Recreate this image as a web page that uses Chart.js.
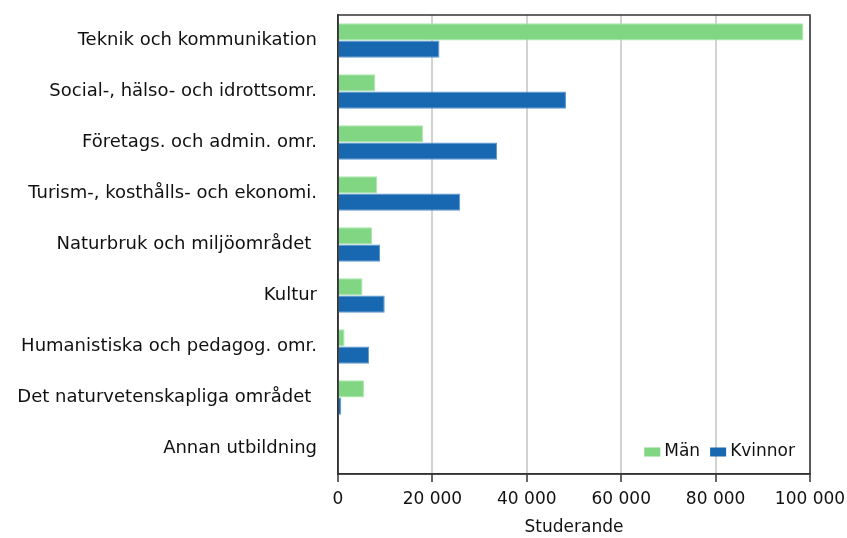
<!DOCTYPE html>
<html>
<head>
<meta charset="utf-8">
<script src="https://cdn.jsdelivr.net/npm/chart.js@4/dist/chart.umd.min.js"></script>
<style>
  html, body { margin: 0; padding: 0; background: #fff; }
  #wrap { width: 847px; height: 538px; }
</style>
</head>
<body>
<div id="wrap"><canvas id="bar-chart"></canvas></div>
<script>
var kategorier = ["Teknik och kommunikation", "Social-, hälso- och idrottsomr.", "Företags. och admin. omr.",
  "Turism-, kosthålls- och ekonomi.", "Naturbruk och miljöområdet ", "Kultur",
  "Humanistiska och pedagog. omr.", "Det naturvetenskapliga området ", "Annan utbildning"];
var man = [98600, 7900, 18000, 8300, 7200, 5200, 1400, 5500, 0];
var kvinnor = [21500, 48300, 33700, 25900, 8900, 9900, 6600, 700, 0];
var xTicks = [0, 20000, 40000, 60000, 80000, 100000];

var FONT = "'DejaVu Sans', sans-serif";

function fmt(v) {
  return String(v).replace(/\B(?=(\d{3})+(?!\d))/g, " ");
}

// ram runt ritytan + legend inne i diagrammet
var ramOchLegend = {
  id: 'ramOchLegend',
  afterDraw: function (chart) {
    var ctx = chart.ctx, a = chart.chartArea;
    ctx.save();
    ctx.strokeStyle = '#333';
    ctx.lineWidth = 1.5;
    ctx.strokeRect(a.left, a.top, a.right - a.left, a.bottom - a.top);
    ctx.font = "17px " + FONT;
    ctx.textBaseline = 'middle';
    ctx.fillStyle = '#111';
    var items = [["Män", "#80d683"], ["Kvinnor", "#1868b1"]];
    var y = a.bottom - 22;
    var x = a.right - 15;
    var widths = items.map(function (it) { return ctx.measureText(it[0]).width; });
    var total = 0;
    items.forEach(function (it, i) { total += 16 + 4 + widths[i] + (i ? 10 : 0); });
    x = x - total;
    items.forEach(function (it, i) {
      if (i) x += 10;
      ctx.fillStyle = it[1];
      ctx.fillRect(x, y - 4.5, 16, 9);
      x += 20;
      ctx.fillStyle = '#111';
      ctx.fillText(it[0], x, y);
      x += widths[i];
    });
    ctx.restore();
  }
};

new Chart(document.getElementById("bar-chart"), {
  type: 'bar',
  data: {
    labels: kategorier,
    datasets: [{
        data: man,
        label: "Män",
        backgroundColor: "#80d683",
        borderColor: "#a9e6ac",
        borderWidth: 1,
        categoryPercentage: 0.68,
        barPercentage: 1.0
      }, {
        data: kvinnor,
        label: "Kvinnor",
        backgroundColor: "#1868b1",
        borderColor: "#5d97d3",
        borderWidth: 1,
        categoryPercentage: 0.68,
        barPercentage: 1.0
      }
    ]
  },
  options: {
    indexAxis: 'y',
    responsive: true,
    maintainAspectRatio: false,
    animation: false,
    layout: { padding: { top: 15, right: 37, left: 0, bottom: 0 } },
    plugins: {
      legend: { display: false },
      tooltip: { enabled: false }
    },
    scales: {
      x: {
        min: 0,
        max: 100000,
        afterBuildTicks: function (s) { s.ticks = xTicks.map(function (v) { return { value: v }; }); },
        afterFit: function (s) { s.height = 64; s.paddingLeft = 0; s.paddingRight = 0; },
        grid: { color: '#d2d2d2', lineWidth: 2, tickColor: '#333', tickLength: 8, tickWidth: 1.5 },
        border: { color: '#333', width: 1.5 },
        ticks: {
          color: '#111',
          font: { family: FONT, size: 17 },
          padding: 7,
          maxRotation: 0,
          callback: function (v) { return fmt(v); }
        },
        title: {
          display: true,
          text: "Studerande",
          color: '#111',
          font: { family: FONT, size: 17 },
          padding: { top: 2, bottom: 0 }
        }
      },
      y: {
        afterFit: function (s) { s.width = 338; s.paddingTop = 0; s.paddingBottom = 0; },
        grid: { display: false, drawTicks: false },
        border: { color: '#333', width: 1.5 },
        ticks: {
          color: '#111',
          font: { family: FONT, size: 18 },
          padding: 21
        }
      }
    }
  },
  plugins: [ramOchLegend]
});
</script>
</body>
</html>
